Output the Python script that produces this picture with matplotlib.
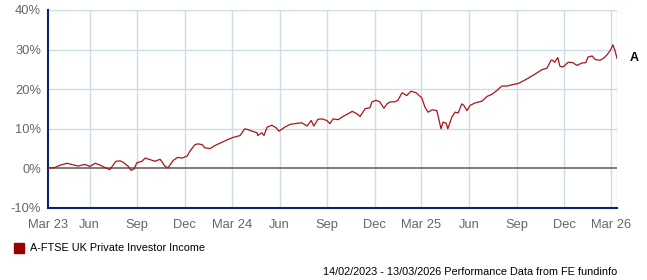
import numpy as np
import pandas as pd
import matplotlib
matplotlib.use("Agg")
import matplotlib.pyplot as plt
import matplotlib.dates as mdates

# Cumulative performance (%)
DATES = [
    "2023-03-13", "2023-03-15", "2023-03-26", "2023-04-05", "2023-04-19", "2023-04-30",
    "2023-05-10", "2023-05-23", "2023-06-02", "2023-06-12", "2023-06-22", "2023-07-01",
    "2023-07-10", "2023-07-22", "2023-07-30", "2023-08-04", "2023-08-14", "2023-08-20",
    "2023-08-26", "2023-08-31", "2023-09-10", "2023-09-16", "2023-09-26", "2023-10-05",
    "2023-10-15", "2023-10-24", "2023-10-30", "2023-11-09", "2023-11-18", "2023-11-26",
    "2023-12-06", "2023-12-11", "2023-12-21", "2023-12-27", "2024-01-04", "2024-01-09",
    "2024-01-19", "2024-01-29", "2024-02-11", "2024-02-21", "2024-03-03", "2024-03-17",
    "2024-03-26", "2024-04-01", "2024-04-09", "2024-04-19", "2024-04-20", "2024-04-28",
    "2024-05-02", "2024-05-08", "2024-05-17", "2024-05-25", "2024-05-31", "2024-06-11",
    "2024-06-21", "2024-07-05", "2024-07-14", "2024-07-24", "2024-08-01", "2024-08-06",
    "2024-08-14", "2024-08-22", "2024-08-31", "2024-09-06", "2024-09-12", "2024-09-22",
    "2024-10-01", "2024-10-11", "2024-10-19", "2024-10-28", "2024-11-03", "2024-11-13",
    "2024-11-22", "2024-11-26", "2024-12-04", "2024-12-11", "2024-12-19", "2024-12-25",
    "2024-12-31", "2025-01-09", "2025-01-15", "2025-01-23", "2025-02-01", "2025-02-09",
    "2025-02-19", "2025-03-02", "2025-03-08", "2025-03-14", "2025-03-22", "2025-03-31",
    "2025-04-04", "2025-04-08", "2025-04-12", "2025-04-18", "2025-04-21", "2025-04-29",
    "2025-05-05", "2025-05-11", "2025-05-18", "2025-05-22", "2025-05-28", "2025-06-03",
    "2025-06-12", "2025-06-20", "2025-06-26", "2025-07-06", "2025-07-15", "2025-07-25",
    "2025-08-03", "2025-08-13", "2025-08-25", "2025-09-03", "2025-09-15", "2025-09-22",
    "2025-10-02", "2025-10-12", "2025-10-19", "2025-10-29", "2025-11-06", "2025-11-08",
    "2025-11-13", "2025-11-19", "2025-11-23", "2025-11-29", "2025-12-09", "2025-12-18",
    "2025-12-26", "2026-01-04", "2026-01-12", "2026-01-16", "2026-01-24", "2026-01-30",
    "2026-02-08", "2026-02-14", "2026-02-22", "2026-03-01", "2026-03-05", "2026-03-09",
    "2026-03-13",
]
VALUES = [
    0.0, 0.1, 0.2, 0.8, 1.3, 0.9,
    0.6, 1.0, 0.5, 1.3, 0.8, 0.2,
    -0.3, 1.8, 1.9, 1.6, 0.6, -0.5,
    -0.1, 1.4, 1.8, 2.6, 2.2, 1.8,
    2.3, 0.6, 0.1, 2.0, 2.8, 2.6,
    3.1, 4.3, 6.0, 6.2, 6.0, 5.2,
    5.0, 5.8, 6.6, 7.2, 7.8, 8.3,
    10.0, 9.8, 9.4, 9.0, 8.3, 9.0,
    8.3, 10.4, 10.9, 10.3, 9.4, 10.4,
    11.1, 11.4, 11.5, 10.7, 12.1, 10.7,
    12.4, 12.5, 12.1, 11.3, 12.5, 12.3,
    13.1, 13.8, 14.4, 13.8, 13.1, 15.1,
    15.3, 16.8, 17.2, 16.8, 15.2, 16.3,
    16.8, 16.8, 17.2, 19.1, 18.4, 19.5,
    19.1, 17.8, 15.5, 14.2, 14.8, 14.6,
    12.3, 10.0, 11.7, 11.4, 10.0, 13.0,
    14.2, 14.0, 16.3, 15.9, 14.6, 15.9,
    16.5, 16.8, 17.0, 18.2, 18.7, 19.7,
    20.8, 20.8, 21.2, 21.4, 22.2, 22.7,
    23.5, 24.3, 24.9, 25.3, 27.3, 27.4,
    26.8, 28.0, 25.8, 25.6, 26.8, 26.7,
    26.0, 26.6, 26.7, 28.1, 28.4, 27.5,
    27.3, 27.7, 28.7, 30.0, 31.2, 29.8,
    27.8,
]
SERIES_NAME = "A-FTSE UK Private Investor Income"
SERIES_TAG = "A"
X_START, X_END = "2023-03-13", "2026-03-13"
TICK_DATES = ["2023-03-13", "2023-06-01", "2023-09-01", "2023-12-01", "2024-03-01",
              "2024-06-01", "2024-09-01", "2024-12-01", "2025-03-01", "2025-06-01",
              "2025-09-01", "2025-12-01", "2026-03-01"]
TICK_LABELS = ["Mar 23", "Jun", "Sep", "Dec", "Mar 24", "Jun", "Sep", "Dec",
               "Mar 25", "Jun", "Sep", "Dec", "Mar 26"]
Y_TICKS = [-10, 0, 10, 20, 30, 40]
FOOTER = "14/02/2023 - 13/03/2026 Performance Data from FE fundinfo"

LINE_COLOR = "#a8141c"
GRID_COLOR = "#cddde8"
AXIS_COLOR = "#0a2470"
LABEL_COLOR = "#666666"

plt.rcParams["font.family"] = ["Liberation Sans", "DejaVu Sans"]

dates = pd.to_datetime(DATES)
ticks = pd.to_datetime(TICK_DATES)

fig = plt.figure(figsize=(6.47, 2.80), dpi=100)
ax = fig.add_axes([48 / 647, 72 / 280, 569 / 647, 198 / 280])

ax.set_xlim(pd.Timestamp(X_START), pd.Timestamp(X_END))
ax.set_ylim(-10, 40)

# grid
for t in ticks[1:]:
    ax.axvline(t, color=GRID_COLOR, lw=1.0, zorder=1)
ax.axvline(pd.Timestamp(X_END), color=GRID_COLOR, lw=1.0, zorder=1)
for y in Y_TICKS[2:]:
    ax.axhline(y, color=GRID_COLOR, lw=1.0, zorder=1)
ax.axhline(0, color="#666666", lw=1.2, zorder=2)

ax.plot(dates, VALUES, color=LINE_COLOR, lw=0.9, zorder=3)

for side in ["top", "right"]:
    ax.spines[side].set_visible(False)
for side in ["left", "bottom"]:
    ax.spines[side].set_color(AXIS_COLOR)
    ax.spines[side].set_linewidth(1.5)

ax.set_xticks(ticks)
ax.set_xticklabels(TICK_LABELS)
ax.set_yticks(Y_TICKS)
ax.set_yticklabels([f"{v}%" for v in Y_TICKS])
ax.tick_params(length=0, labelsize=9.3, colors=LABEL_COLOR)
ax.tick_params(axis="x", pad=8)
ax.tick_params(axis="y", pad=5)

ax.text(1.022, VALUES[-1], SERIES_TAG, transform=ax.get_yaxis_transform(),
        fontsize=9, fontweight="bold", va="center", ha="left", color="black")

# legend
fig.patches.append(plt.Rectangle((14 / 647, 1 - 253 / 280), 10 / 647, 10 / 280,
                                 transform=fig.transFigure, color="#990000"))
fig.text(30 / 647, 1 - 248 / 280, SERIES_NAME, fontsize=7.8, va="center", ha="left")
fig.text(617 / 647, 1 - 272 / 280, FOOTER, fontsize=7.8, va="center", ha="right")

fig.savefig("out.png", dpi=100)
